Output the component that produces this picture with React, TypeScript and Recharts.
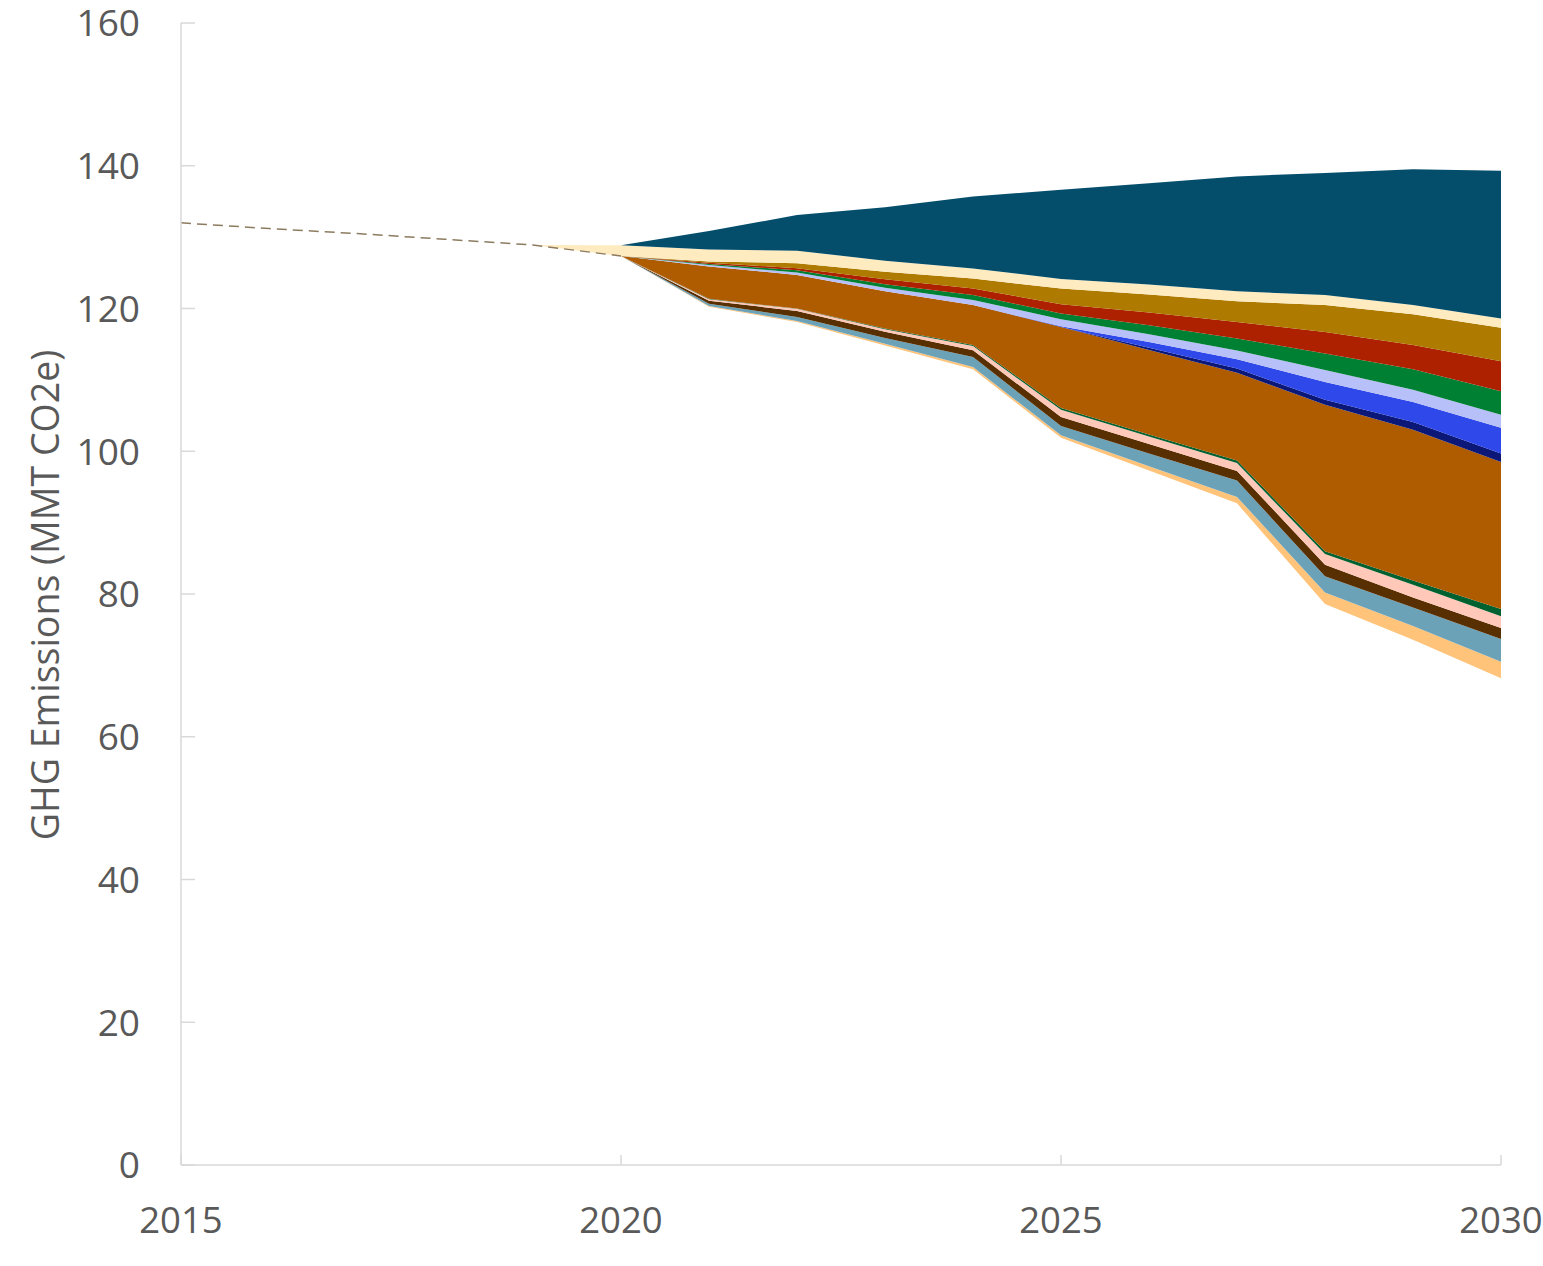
import React from "react";
import { Area, ComposedChart, Line, XAxis, YAxis } from "recharts";

// years on the x axis
const years = [2015, 2016, 2017, 2018, 2019, 2020, 2021, 2022, 2023, 2024, 2025, 2026, 2027, 2028, 2029, 2030];

// remaining emissions (white, unfilled base of the stack)
const remaining = [132.0, 131.2, 130.5, 129.7, 128.9, 127.35, 120.25, 118.1, 114.8, 111.5, 101.9, 97.3, 92.7, 78.6, 73.6, 68.2];
// dashed historical line, 2015-2020 only
const history = [132.0, 131.2, 130.5, 129.7, 128.9, 127.35, null, null, null, null, null, null, null, null, null, null];

// wedges, bottom to top
const peach = [0, 0, 0, 0, 0, 0, 0.1, 0.15, 0.25, 0.3, 0.35, 0.6, 0.9, 1.6, 1.9, 2.3];
const steelBlue = [0, 0, 0, 0, 0, 0, 0.3, 0.55, 0.8, 1.4, 1.3, 1.8, 2.3, 2.3, 2.6, 3.2];
const darkBrown = [0, 0, 0, 0, 0, 0, 0.45, 0.85, 0.9, 0.95, 1.25, 1.3, 1.35, 1.6, 1.4, 1.55];
const pink = [0, 0, 0, 0, 0, 0, 0.2, 0.3, 0.35, 0.6, 1.0, 1.05, 1.1, 1.5, 1.8, 1.65];
const darkGreen = [0, 0, 0, 0, 0, 0, 0.05, 0.05, 0.1, 0.15, 0.25, 0.3, 0.35, 0.4, 0.6, 1.0];
const rust = [0, 0, 0, 0, 0, 0, 4.55, 4.7, 5.2, 5.6, 11.35, 11.85, 12.3, 20.5, 21.1, 20.6];
const navy = [0, 0, 0, 0, 0, 0, 0, 0, 0, 0, 0, 0.3, 0.6, 0.7, 1.1, 1.2];
const blue = [0, 0, 0, 0, 0, 0, 0, 0, 0, 0, 0.1, 0.8, 1.3, 2.5, 2.8, 3.6];
const lavender = [0, 0, 0, 0, 0, 0, 0.2, 0.35, 0.5, 0.7, 1.0, 1.1, 1.2, 1.7, 1.7, 1.8];
const green = [0, 0, 0, 0, 0, 0, 0.15, 0.3, 0.5, 0.7, 0.8, 1.25, 1.7, 2.3, 2.9, 3.3];
const red = [0, 0, 0, 0, 0, 0, 0.15, 0.3, 0.7, 0.9, 1.3, 1.8, 2.3, 3.0, 3.4, 4.2];
const gold = [0, 0, 0, 0, 0, 0, 0.2, 0.7, 1.05, 1.4, 2.2, 2.5, 2.9, 3.8, 4.3, 4.7];
const cream = [0, 0, 0, 0, 0, 1.5, 1.65, 1.75, 1.55, 1.4, 1.35, 1.4, 1.4, 1.4, 1.3, 1.3];
const teal = [0, 0, 0, 0, 0, 0, 2.6, 5.0, 7.5, 10.1, 12.5, 14.2, 16.1, 17.1, 19.0, 20.7];

const yTicks = [0, 20, 40, 60, 80, 100, 120, 140, 160];
const xTicks = [2015, 2020, 2025, 2030];

const layers: [string, number[], string][] = [
  ["peach", peach, "#FFC37A"],
  ["steelBlue", steelBlue, "#6CA2B8"],
  ["darkBrown", darkBrown, "#572F00"],
  ["pink", pink, "#FFC8B8"],
  ["darkGreen", darkGreen, "#006130"],
  ["rust", rust, "#AF5B00"],
  ["navy", navy, "#0B1878"],
  ["blue", blue, "#2E48EA"],
  ["lavender", lavender, "#B7C0F8"],
  ["green", green, "#008033"],
  ["red", red, "#AE2100"],
  ["gold", gold, "#AE7B00"],
  ["cream", cream, "#FFEBC0"],
  ["teal", teal, "#044E6B"],
];

const data = years.map((year, i) => {
  const row: Record<string, number | null> = { year, remaining: remaining[i], history: history[i] };
  layers.forEach(([key, vals]) => {
    row[key] = vals[i];
  });
  return row;
});

const FONT = "'Open Sans', sans-serif";
const GREY = "#595959";
const AXIS = "#d9d9d9";
// page has no margin, so svg coords = page coords
const PLOT_LEFT = 181;
const PLOT_TOP = 23;
const PLOT_BOTTOM = 1165;
const W = 1543;
const H = 1266;

const YTick = (props: any) => {
  const { y, payload } = props;
  return (
    <g>
      <line x1={PLOT_LEFT} x2={PLOT_LEFT + 14} y1={y} y2={y} stroke={AXIS} strokeWidth={1.5} />
      <text x={PLOT_LEFT - 41} y={y} dy="0.36em" textAnchor="end" fill={GREY} fontSize={37} fontFamily={FONT}>
        {payload.value}
      </text>
    </g>
  );
};

const XTick = (props: any) => {
  const { x, payload } = props;
  return (
    <g>
      <line x1={x} x2={x} y1={PLOT_BOTTOM} y2={PLOT_BOTTOM - 10} stroke={AXIS} strokeWidth={1.5} />
      <text x={x} y={PLOT_BOTTOM + 55} dy="0.36em" textAnchor="middle" fill={GREY} fontSize={36.5} fontFamily={FONT}>
        {payload.value}
      </text>
    </g>
  );
};

export default function App() {
  return (
    <div style={{ width: W, height: H }}>
      <style>{"html,body{margin:0;padding:0;overflow:hidden} .recharts-surface{overflow:visible}"}</style>
      <ComposedChart width={W} height={H} data={data} margin={{ top: PLOT_TOP, right: 42, bottom: 18, left: 0 }}>
        <XAxis
          dataKey="year"
          type="number"
          domain={[2015, 2030]}
          ticks={xTicks}
          tick={<XTick />}
          tickLine={false}
          axisLine={{ stroke: AXIS, strokeWidth: 1.5 }}
          height={83}
          interval={0}
        />
        <YAxis
          type="number"
          domain={[0, 160]}
          ticks={yTicks}
          tick={<YTick />}
          tickLine={false}
          axisLine={{ stroke: AXIS, strokeWidth: 1.5 }}
          width={PLOT_LEFT}
          interval={0}
          label={{
            value: "GHG Emissions (MMT CO2e)",
            content: () => (
              <text
                x={44}
                y={595}
                transform="rotate(-90 44 595)"
                textAnchor="middle"
                dominantBaseline="central"
                fill={GREY}
                fontSize={37.5}
                fontFamily={FONT}
              >
                GHG Emissions (MMT CO2e)
              </text>
            ),
          }}
        />
        <Area
          type="linear"
          dataKey="remaining"
          stackId="s"
          stroke="none"
          fill="none"
          fillOpacity={0}
          isAnimationActive={false}
        />
        {layers.map(([key, , color]) => (
          <Area
            key={key}
            type="linear"
            dataKey={key}
            stackId="s"
            stroke="none"
            fill={color}
            fillOpacity={1}
            isAnimationActive={false}
          />
        ))}
        <Line
          type="linear"
          dataKey="history"
          stroke="#8c7b5e"
          strokeWidth={1.5}
          strokeDasharray="10 6"
          dot={false}
          connectNulls={false}
          isAnimationActive={false}
        />
      </ComposedChart>
    </div>
  );
}
